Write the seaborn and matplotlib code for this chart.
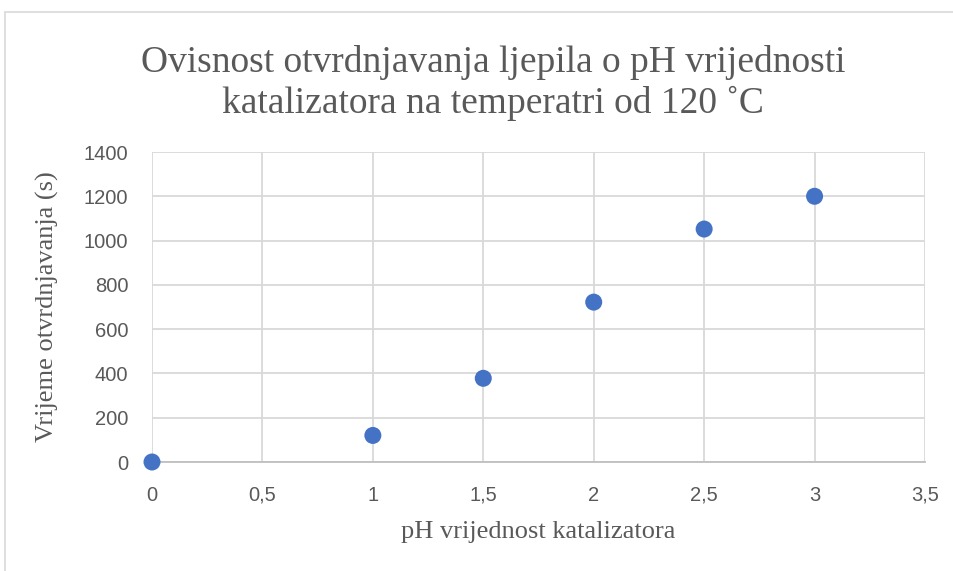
import matplotlib
matplotlib.use("Agg")
import matplotlib.pyplot as plt
import seaborn as sns
import pandas as pd
from matplotlib.ticker import FuncFormatter
from matplotlib.patches import Rectangle

ph_values = [0, 1, 1.5, 2, 2.5, 3]
cure_times = [0, 120, 378, 722, 1052, 1200]
x_ticks = [0, 0.5, 1, 1.5, 2, 2.5, 3, 3.5]
y_ticks = [0, 200, 400, 600, 800, 1000, 1200, 1400]

title = "Ovisnost otvrdnjavanja ljepila o pH vrijednosti\nkatalizatora na temperatri od 120 ˚C"
x_label = "pH vrijednost katalizatora"
y_label = "Vrijeme otvrdnjavanja (s)"

df = pd.DataFrame({"pH": ph_values, "t": cure_times})

sns.set_theme(style="white")
plt.rcParams['font.family'] = ['Liberation Sans', 'DejaVu Sans']

fig = plt.figure(figsize=(9.54, 5.71), dpi=100)
ax = fig.add_axes([152/954, 1-462/571, (925-152)/954, (462-152)/571])

grid_c = "#d9d9d9"
sns.scatterplot(data=df, x="pH", y="t", ax=ax, color="#4472c4", s=150,
                edgecolor="none", zorder=5, clip_on=False)

ax.set_xlim(0, 3.5)
ax.set_ylim(0, 1400)
ax.set_xticks(x_ticks)
ax.set_yticks(y_ticks)
fmt = FuncFormatter(lambda v, p: (f"{v:g}").replace(".", ","))
ax.xaxis.set_major_formatter(fmt)
ax.yaxis.set_major_formatter(FuncFormatter(lambda v, p: f"{int(v)}"))
ax.grid(True, color=grid_c, linewidth=1.3, zorder=0)
ax.set_axisbelow(True)
for s in ["top", "right", "left"]:
    ax.spines[s].set_visible(False)
ax.spines["bottom"].set_color("#bfbfbf")
ax.spines["bottom"].set_linewidth(1.3)
ax.tick_params(axis="both", length=0, labelsize=14.5, labelcolor="#595959")
ax.tick_params(axis="x", pad=17)
ax.tick_params(axis="y", pad=17)

ax.set_xlabel(x_label, family=["Liberation Serif", "DejaVu Serif"], fontsize=19,
              color="#595959", labelpad=12)
ax.set_ylabel(y_label, family=["Liberation Serif", "DejaVu Serif"], fontsize=19,
              color="#595959", labelpad=18)

fig.text(493/954, 1-83/571, title, family=["Liberation Serif", "DejaVu Serif"],
         fontsize=27, color="#595959", ha="center", va="center", linespacing=1.25)

fig.patches.append(Rectangle((5/954, -0.02), 1.1, 1-12/571+0.02,
                             transform=fig.transFigure, fill=False,
                             edgecolor="#d9d9d9", linewidth=1.2))

fig.savefig("out.png", dpi=100, facecolor="white")
